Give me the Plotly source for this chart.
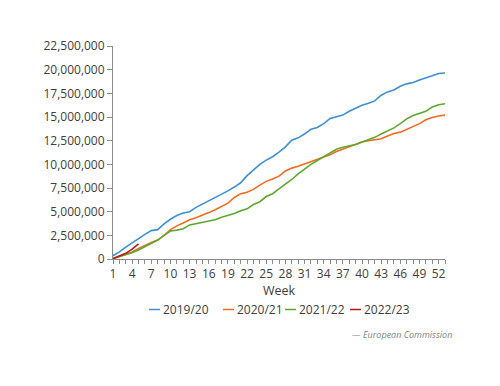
import plotly.graph_objects as go

weeks = list(range(1, 54))
tick_weeks = list(range(1, 53, 3))

s2019 = [0.35, 0.75, 1.25, 1.7, 2.2, 2.6, 3.0, 3.1, 3.7, 4.2, 4.6, 4.85, 5.0, 5.45, 5.8, 6.15,
         6.45, 6.8, 7.2, 7.6, 8.05, 8.8, 9.45, 10.0, 10.45, 10.8, 11.3, 11.85, 12.55, 12.8,
         13.2, 13.7, 13.9, 14.3, 14.85, 15.0, 15.2, 15.6, 15.95, 16.25, 16.45, 16.7, 17.3,
         17.65, 17.85, 18.25, 18.5, 18.65, 18.9, 19.1, 19.35, 19.6, 19.65]
s2020 = [0.05, 0.3, 0.55, 0.75, 1.1, 1.45, 1.75, 2.0, 2.5, 3.1, 3.5, 3.8, 4.15, 4.35, 4.6, 4.9,
         5.2, 5.55, 5.9, 6.5, 6.9, 7.05, 7.35, 7.8, 8.2, 8.45, 8.75, 9.3, 9.6, 9.8, 10.05,
         10.3, 10.55, 10.8, 11.0, 11.35, 11.6, 11.9, 12.1, 12.35, 12.5, 12.6, 12.7, 13.0,
         13.25, 13.4, 13.7, 14.0, 14.3, 14.7, 14.95, 15.1, 15.2]
s2021 = [0.05, 0.25, 0.45, 0.65, 0.95, 1.3, 1.65, 2.0, 2.5, 2.95, 3.05, 3.2, 3.6, 3.75, 3.85,
         4.0, 4.15, 4.4, 4.6, 4.8, 5.1, 5.3, 5.75, 6.05, 6.6, 6.9, 7.4, 7.9, 8.4, 9.0, 9.55,
         10.0, 10.4, 10.8, 11.2, 11.6, 11.8, 11.95, 12.1, 12.35, 12.6, 12.85, 13.2, 13.5,
         13.85, 14.3, 14.8, 15.15, 15.4, 15.6, 16.05, 16.3, 16.4]
s2022 = [0.05, 0.35, 0.6, 1.05, 1.6]

series_names = ["2019/20", "2020/21", "2021/22", "2022/23"]
series_values = [s2019, s2020, s2021, s2022]
series_colors = ["#3F8FD6", "#F26B21", "#5FA830", "#C0161E"]

# figure is placed 8px into the page by the default body margin
PW, PH = 332, 213  # plot area size in pixels
def px(xp):
    return (xp - 113) / PW
def py(yp):
    return (259 - yp) / PH

fig = go.Figure()
for name, vals, color in zip(series_names, series_values, series_colors):
    fig.add_trace(go.Scatter(
        x=weeks[:len(vals)], y=[v * 1e6 for v in vals], mode="lines", name=name,
        line=dict(color=color, width=1.6), showlegend=False,
    ))

font_color = "#404040"
legend_line_x = [149, 223, 285, 350]
shapes = []
annotations = []
for name, color, lx in zip(series_names, series_colors, legend_line_x):
    shapes.append(dict(type="line", xref="paper", yref="paper",
                       x0=px(lx), x1=px(lx + 11), y0=py(309.5), y1=py(309.5),
                       line=dict(color=color, width=1.5)))
    annotations.append(dict(text=name, xref="paper", yref="paper",
                            x=px(lx + 11.5), y=py(309.5), xanchor="left", yanchor="middle",
                            showarrow=False, font=dict(size=12, color=font_color)))
annotations.append(dict(
    text="<i>— European Commission</i>", xref="paper", yref="paper",
    x=px(454), y=py(334), xanchor="right", yanchor="middle", showarrow=False,
    font=dict(size=9, color="#7f7f7f"),
))

fig.update_layout(
    width=492, height=378,
    margin=dict(l=105, r=55, t=38, b=127),
    paper_bgcolor="white", plot_bgcolor="white",
    font=dict(family="Open Sans", size=12, color=font_color),
    showlegend=False,
    xaxis=dict(
        range=[1, 53], tickmode="array", tickvals=tick_weeks,
        ticktext=[str(w) for w in tick_weeks],
        showgrid=False, zeroline=False, showline=True, linecolor="#8c8c8c", linewidth=1,
        ticks="outside", ticklen=4, tickcolor="#8c8c8c",
        minor=dict(dtick=1, tick0=1, ticks="outside", ticklen=4, tickcolor="#8c8c8c", showgrid=False),
        tickfont=dict(size=12, color=font_color),
        title=dict(text="Week", font=dict(size=12.5, color=font_color), standoff=4),
    ),
    yaxis=dict(
        range=[0, 22.5e6], dtick=2.5e6, tick0=0, tickformat=",d",
        showgrid=False, zeroline=False, showline=True, linecolor="#8c8c8c", linewidth=1,
        ticks="outside", ticklen=5, tickcolor="#8c8c8c",
        tickfont=dict(size=12, color=font_color),
    ),
    shapes=shapes,
    annotations=annotations,
)

fig.write_html("out.html")
